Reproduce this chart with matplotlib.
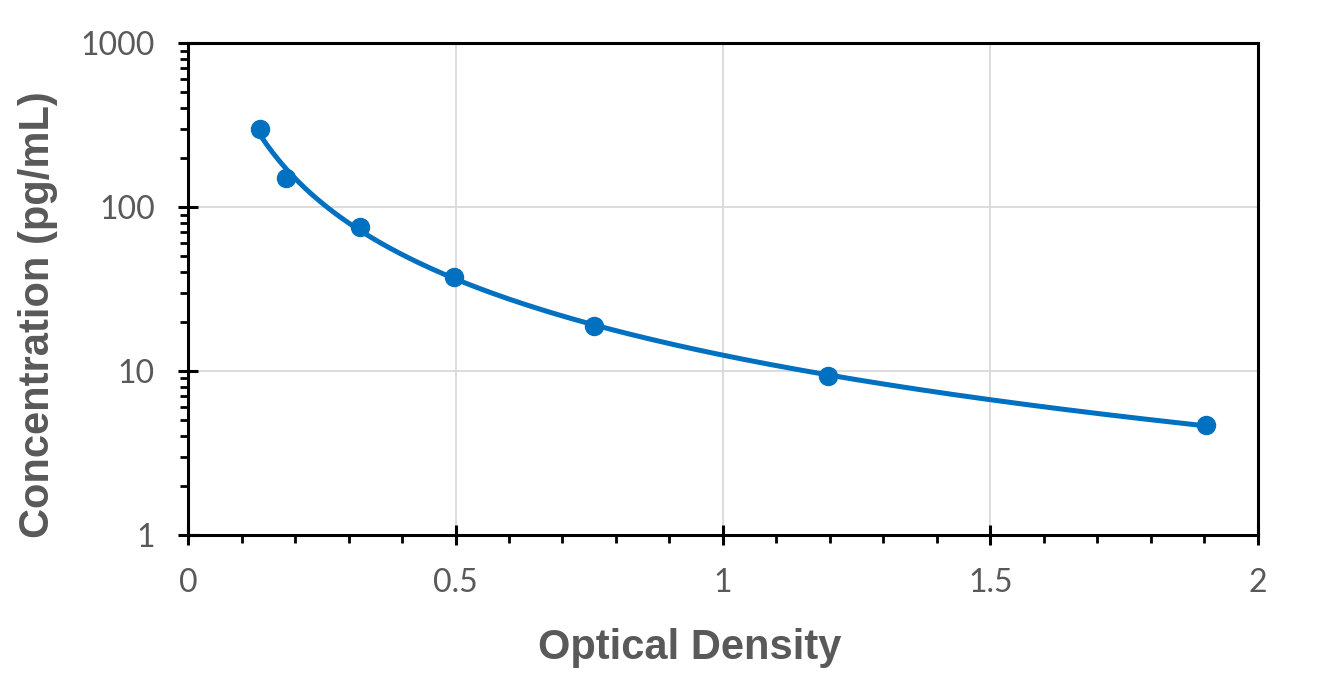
import matplotlib.pyplot as plt
import numpy as np
from matplotlib.ticker import LogLocator, MultipleLocator, FixedLocator, NullFormatter

od = [0.135, 0.183, 0.321, 0.497, 0.759, 1.196, 1.903]
conc = [300, 150, 75, 37.5, 18.75, 9.375, 4.6875]

x_ticks = [0, 0.5, 1, 1.5, 2]
x_labels = ['0', '0.5', '1', '1.5', '2']
y_ticks = [1, 10, 100, 1000]
y_labels = ['1', '10', '100', '1000']

blue = '#0070C0'
grey = '#595959'

# power trendline  y = a * x^b
b, loga = np.polyfit(np.log10(od), np.log10(conc), 1)
xf = np.linspace(min(od), max(od), 300)
yf = 10**loga * xf**b

fig = plt.figure(figsize=(13.25, 6.85), dpi=100)
ax = fig.add_axes([0.1419, 0.219, 0.8075, 0.7182])

ax.plot(xf, yf, color=blue, linewidth=3.6, zorder=3)
ax.plot(od, conc, 'o', color=blue, markersize=13, zorder=4)

ax.set_yscale('log')
ax.set_xlim(0, 2)
ax.set_ylim(1, 1000)

ax.xaxis.set_major_locator(FixedLocator(x_ticks))
ax.set_xticklabels(x_labels)
ax.xaxis.set_minor_locator(MultipleLocator(0.1))
ax.yaxis.set_major_locator(FixedLocator(y_ticks))
ax.set_yticklabels(y_labels)
ax.yaxis.set_minor_locator(LogLocator(base=10, subs=np.arange(2, 10)))
ax.yaxis.set_minor_formatter(NullFormatter())

ax.grid(True, which='major', color='#D9D9D9', linewidth=1.3, zorder=0)
ax.set_axisbelow(True)

for s in ax.spines.values():
    s.set_linewidth(2.2)
    s.set_color('black')

ax.tick_params(which='major', direction='inout', length=14, width=2.2,
               labelsize=23, labelcolor=grey)
ax.tick_params(which='minor', direction='out', length=6, width=2.0)
for lab in ax.get_xticklabels() + ax.get_yticklabels():
    lab.set_fontfamily('Lato')
ax.tick_params(axis='x', pad=17)
ax.tick_params(axis='y', pad=17)

ax.set_xlabel('Optical Density', fontsize=30, fontweight='bold', color=grey,
              family='Liberation Sans')
ax.xaxis.set_label_coords(0.469, -0.23)
ax.xaxis.label.set_va('center')
ax.set_ylabel('Concentration (pg/mL)', fontsize=30, fontweight='bold', color=grey,
              family='Liberation Sans')
ax.yaxis.set_label_coords(-0.140, 0.447)
ax.yaxis.label.set_va('center')

fig.savefig('out.png', dpi=100)
